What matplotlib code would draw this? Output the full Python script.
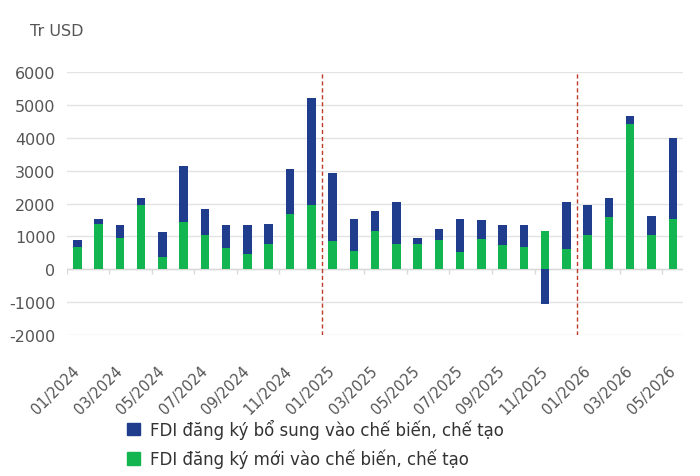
import numpy as np
import matplotlib.pyplot as plt
from matplotlib.patches import Patch

plt.rcParams['font.family'] = ['DejaVu Sans']
plt.rcParams['axes.unicode_minus'] = False

# du lieu (trieu USD)
months = ['01/2024', '02/2024', '03/2024', '04/2024', '05/2024', '06/2024',
          '07/2024', '08/2024', '09/2024', '10/2024', '11/2024', '12/2024',
          '01/2025', '02/2025', '03/2025', '04/2025', '05/2025', '06/2025',
          '07/2025', '08/2025', '09/2025', '10/2025', '11/2025', '12/2025',
          '01/2026', '02/2026', '03/2026', '04/2026', '05/2026']
moi = [690, 1370, 940, 1950, 370, 1450, 1050, 640, 470, 760, 1690, 1960,
       870, 560, 1170, 760, 760, 880, 530, 920, 730, 690, 1180, 610,
       1050, 1580, 4430, 1040, 1520]
bo_sung = [195, 155, 415, 235, 780, 1705, 800, 720, 890, 630, 1370, 3250,
           2070, 985, 600, 1285, 185, 350, 995, 590, 610, 670, -1070, 1445,
           905, 600, 250, 590, 2490]
split_after = ['12/2024', '12/2025']

c_blue = '#1f3d8c'
c_green = '#12b550'
c_text = '#555555'

fig = plt.figure(figsize=(7, 4.77), dpi=100)
ax = fig.add_axes([0.0953, 0.2956, 0.881, 0.5507])

x = np.arange(len(months))
moi = np.array(moi)
bo_sung = np.array(bo_sung)
# phan am ve tu 0, phan duong chong len phan moi
bottom = np.where(bo_sung >= 0, moi, 0)
ax.bar(x, moi, width=0.4, color=c_green, zorder=3)
ax.bar(x, bo_sung, width=0.4, bottom=bottom, color=c_blue, zorder=3)

for m in split_after:
    ax.axvline(months.index(m) + 0.5, color='#c0392b', lw=1, ls=(0, (3, 2)), zorder=4)

ax.set_ylim(-2000, 6000)
ax.set_xlim(-0.5, len(months) - 0.5)
ax.set_yticks(np.arange(-2000, 6001, 1000))
ax.grid(axis='y', color='#e3e3e3', lw=1, zorder=0)
ax.axhline(0, color='#d9d9d9', lw=1, zorder=2)
ax.vlines(np.arange(-0.5, len(months), 2), -150, 0, color='#d9d9d9', lw=1, zorder=2)

for s in ax.spines.values():
    s.set_visible(False)

ax.set_xticks(x[::2])
ax.set_xticklabels(months[::2], rotation=45, ha='right', va='center',
                   rotation_mode='anchor')
ax.tick_params(axis='x', length=0, pad=24, labelsize=10.5, labelcolor=c_text)
ax.tick_params(axis='y', length=0, pad=8, labelsize=11.5, labelcolor=c_text)

fig.text(0.043, 0.935, 'Tr USD', fontsize=11.5, color=c_text, va='center')

handles = [Patch(color=c_blue, label='FDI đăng ký bổ sung vào chế biến, chế tạo'),
           Patch(color=c_green, label='FDI đăng ký mới vào chế biến, chế tạo')]
fig.legend(handles=handles, loc='upper left', bbox_to_anchor=(0.172, 0.134),
           frameon=False, fontsize=12, labelcolor='#333333',
           handlelength=0.75, handleheight=0.75, handletextpad=0.6,
           labelspacing=0.6, borderaxespad=0)

fig.savefig('out.png', dpi=100)
